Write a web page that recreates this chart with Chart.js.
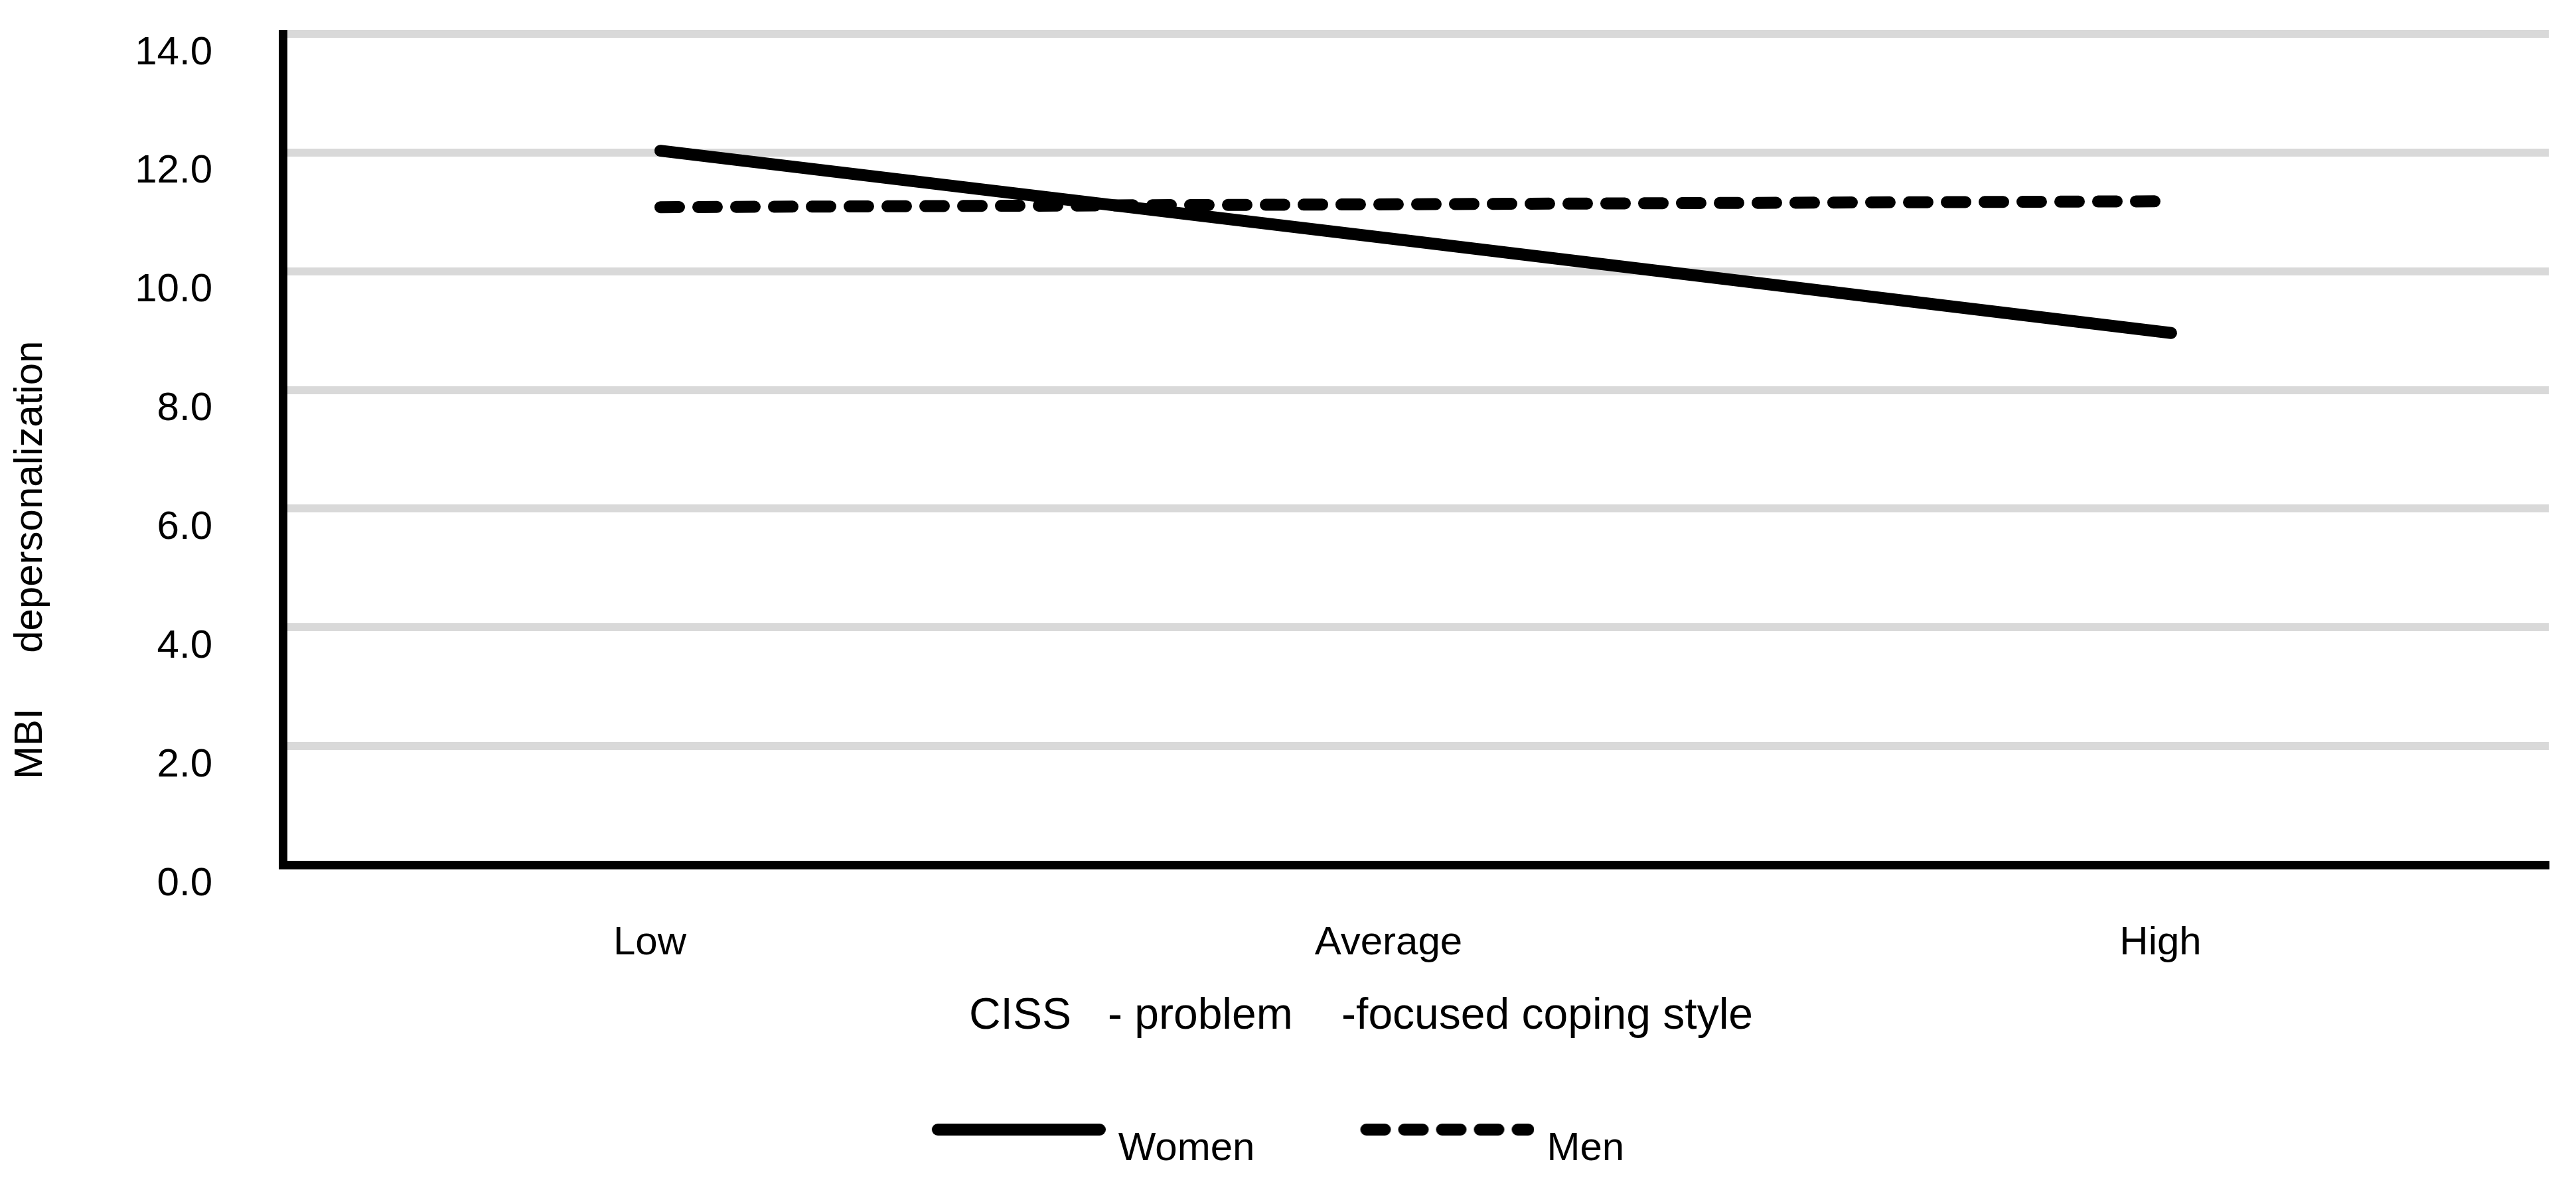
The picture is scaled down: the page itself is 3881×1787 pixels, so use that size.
<!DOCTYPE html>
<html>
<head>
<meta charset="utf-8">
<script src="https://cdn.jsdelivr.net/npm/chart.js@4.4.1/dist/chart.umd.min.js"></script>
<style>
html,body{margin:0;padding:0;background:#fff;overflow:hidden}
#wrap{width:3881px;height:1787px;position:relative}
</style>
</head>
<body>
<div id="wrap"><canvas id="c"></canvas></div>
<script>
// ---- data ----
const categories = ['Low', 'Average', 'High'];
const womenValues = [12.03, 10.5, 8.96];
const menValues = [11.08, 11.13, 11.18];
const seriesNames = ['Women', 'Men'];
const yTickLabels = ['0.0', '2.0', '4.0', '6.0', '8.0', '10.0', '12.0', '14.0'];
const yTitleText = 'MBI     depersonalization';
const xTitleText = 'CISS   - problem    -focused coping style';

// ---- styles ----
const FONT = 'Liberation Sans';
const LINE_W = 18;
const MEN_DASH = [28, 29];

function legendIcon(dash) {
  const c = document.createElement('canvas');
  c.width = 284; c.height = 80;
  const g = c.getContext('2d');
  g.strokeStyle = '#000';
  g.lineWidth = LINE_W;
  g.lineCap = 'round';
  g.setLineDash(dash);
  g.beginPath();
  g.moveTo(31, 11);
  g.lineTo(275, 11);
  g.stroke();
  return c;
}
const icons = [legendIcon([]), legendIcon(MEN_DASH)];

Chart.defaults.font.family = FONT;
Chart.defaults.color = '#000';

new Chart(document.getElementById('c'), {
  type: 'line',
  data: {
    labels: categories,
    datasets: [
      {
        label: seriesNames[0],
        data: womenValues,
        borderColor: '#000',
        backgroundColor: '#000',
        borderWidth: LINE_W,
        borderCapStyle: 'round',
        borderJoinStyle: 'round',
        pointRadius: 0,
        pointHoverRadius: 0,
        tension: 0,
        fill: false
      },
      {
        label: seriesNames[1],
        data: menValues,
        borderColor: '#000',
        backgroundColor: '#000',
        borderWidth: LINE_W,
        borderCapStyle: 'round',
        borderJoinStyle: 'round',
        borderDash: MEN_DASH,
        pointRadius: 0,
        pointHoverRadius: 0,
        tension: 0,
        fill: false
      }
    ]
  },
  options: {
    responsive: true,
    maintainAspectRatio: false,
    devicePixelRatio: 1,
    animation: false,
    events: [],
    layout: { padding: { left: 0, right: 41, top: 51, bottom: 16 } },
    scales: {
      x: {
        type: 'category',
        offset: true,
        grid: { display: false, drawTicks: false },
        border: { display: true, color: '#000', width: 13 },
        ticks: {
          padding: 82,
          labelOffset: -16,
          font: { size: 60, family: FONT },
          color: '#000',
          maxRotation: 0,
          autoSkip: false,
          callback: function(v, i) { return categories[i] + (i === 1 ? '   ' : ''); }
        },
        title: {
          display: true,
          text: xTitleText + '         ',
          font: { size: 66, family: FONT, lineHeight: 0.6 },
          color: '#000',
          padding: { top: 0, bottom: 1 }
        },
        afterFit: function(s) {
          s.height = 250;
          s.paddingLeft = 0; s.paddingRight = 0;
          s.paddingTop = 0; s.paddingBottom = 0;
        }
      },
      y: {
        min: 0,
        max: 14,
        grid: { color: '#D9D9D9', lineWidth: 12, drawTicks: false },
        border: { display: true, color: '#000', width: 13 },
        ticks: {
          stepSize: 2,
          padding: 106,
          labelOffset: 29,
          font: { size: 60, family: FONT },
          color: '#000',
          callback: function(v, i) { return yTickLabels[i]; }
        },
        title: {
          display: true,
          text: yTitleText + '                    ',
          font: { size: 60, family: FONT, lineHeight: 1.2 },
          color: '#000',
          padding: { top: 10, bottom: 0 }
        },
        afterFit: function(s) {
          s.width = 426;
          s.paddingLeft = 0; s.paddingRight = 0;
          s.paddingTop = 0; s.paddingBottom = 0;
        }
      }
    },
    plugins: {
      tooltip: { enabled: false },
      legend: {
        display: true,
        position: 'bottom',
        align: 'center',
        labels: {
          font: { size: 60, family: FONT },
          color: '#000',
          usePointStyle: true,
          pointStyleWidth: 262,
          padding: 148,
          generateLabels: function(chart) {
            const items = Chart.defaults.plugins.legend.labels.generateLabels(chart);
            items.forEach(function(it, i) { it.pointStyle = icons[i]; });
            return items;
          }
        }
      }
    }
  }
});
</script>
</body>
</html>
